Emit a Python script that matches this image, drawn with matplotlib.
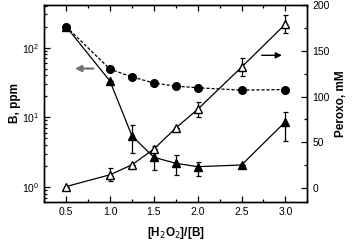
import matplotlib.pyplot as plt
from matplotlib.ticker import MultipleLocator, LogLocator, NullFormatter

plt.rcParams['font.family'] = ['Liberation Sans', 'DejaVu Sans']

ratio = [0.5, 1.0, 1.25, 1.5, 1.75, 2.0, 2.5, 3.0]

# B, ppm (left, log axis)
b_circle = [200, 49, 38, 31, 28, 26.5, 24.5, 25]
b_tri = [200, 33, 5.4, 2.66, 2.18, 1.95, 2.06, 8.6]
b_tri_lo = [0, 0, 2.3, 0.9, 0.7, 0.5, 0, 4.0]
b_tri_hi = [0, 0, 2.3, 1.25, 0.7, 0.35, 0, 3.4]

# Peroxo, mM (right axis)
perox = [1.7, 14.5, 25.4, 42.6, 65.5, 86, 132, 179]
perox_err = [0, 7, 0, 0, 0, 8, 10, 10]

fig, ax = plt.subplots(figsize=(3.54, 2.47), dpi=100)
fig.subplots_adjust(left=0.125, right=0.868, top=0.98, bottom=0.183)

ax.plot(ratio, b_circle, 'k--', lw=0.9, dashes=(2.5, 1.5), marker='o', ms=5.5, zorder=3)
ax.errorbar(ratio, b_tri, yerr=[b_tri_lo, b_tri_hi], color='k', lw=0.9, marker='^',
            ms=5.5, capsize=1.8, elinewidth=0.9, capthick=0.9, zorder=3)
ax.set_yscale('log')
ax.set_ylim(0.61, 410)
ax.set_xlim(0.25, 3.25)
ax.xaxis.set_major_locator(MultipleLocator(0.5))
ax.xaxis.set_minor_locator(MultipleLocator(0.25))
ax.yaxis.set_major_locator(LogLocator(base=10))
ax.yaxis.set_minor_locator(LogLocator(base=10, subs=range(2, 10)))
ax.yaxis.set_minor_formatter(NullFormatter())
ax.tick_params(which='both', direction='in', top=True, labelsize=7.5, width=0.9)
ax.tick_params(which='major', length=4)
ax.tick_params(which='minor', length=2.2)
ax.set_xlabel('[H$_2$O$_2$]/[B]', fontsize=8.5, fontweight='bold', labelpad=6)
ax.set_ylabel('B, ppm', fontsize=8.5, fontweight='bold', labelpad=1)

ax2 = ax.twinx()
ax2.errorbar(ratio, perox, yerr=perox_err, color='k', lw=0.9, marker='^', ms=5.5,
             mfc='white', mec='k', capsize=1.8, elinewidth=0.9, capthick=0.9, zorder=3)
ax2.set_ylim(-15, 200)
ax2.yaxis.set_major_locator(MultipleLocator(50))
ax2.yaxis.set_minor_locator(MultipleLocator(25))
ax2.tick_params(which='both', direction='in', labelsize=7.5, width=0.9)
ax2.tick_params(which='major', length=4)
ax2.tick_params(which='minor', length=2.2)
ax2.set_ylabel('Peroxo, mM', fontsize=8.5, fontweight='bold', labelpad=4)

for a in (ax, ax2):
    for s in a.spines.values():
        s.set_linewidth(1.0)

ax.annotate('', xy=(0.6, 50), xytext=(0.81, 50),
            arrowprops=dict(arrowstyle='-|>', color='0.45', lw=1.6, mutation_scale=9,
                            shrinkA=0, shrinkB=0))
ax2.annotate('', xy=(2.96, 145), xytext=(2.73, 145),
             arrowprops=dict(arrowstyle='-|>', color='k', lw=1.0, mutation_scale=9,
                             shrinkA=0, shrinkB=0))

fig.savefig('out.png', dpi=100)
